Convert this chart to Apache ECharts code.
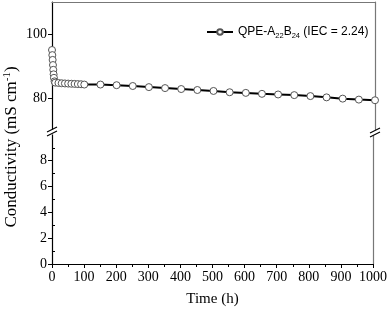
<!DOCTYPE html>
<html><head><meta charset="utf-8">
<script src="https://cdn.jsdelivr.net/npm/echarts@6/dist/echarts.min.js"></script>
<style>html,body{margin:0;padding:0;background:#fff}#c{width:390px;height:313px}</style>
</head><body><div id="c"></div>
<script>
const timeH = [0,1,2,3,4,5,6,8,10,20,30,40,50,60,70,80,90,100,150,200,250,300,350,400,450,500,550,600,650,700,750,800,850,900,950,1000];
const conductivity = [95.0,93.4,91.9,90.3,88.8,87.4,86.3,85.2,84.8,84.7,84.6,84.55,84.5,84.45,84.4,84.35,84.3,84.2,84.2,84.0,83.75,83.4,83.1,82.8,82.5,82.2,81.8,81.6,81.3,81.1,80.9,80.6,80.2,79.8,79.5,79.3];
const xTicks = [0,100,200,300,400,500,600,700,800,900,1000];
const upperYTicks = [80,100];
const lowerYTicks = [0,2,4,6,8];
const lowerYMinorTicks = [1,3,5,7,9];
const seriesName = 'QPE-A22B24 (IEC = 2.24)';

const serif = 'Liberation Serif';
const chart = echarts.init(document.getElementById('c'), null, {renderer:'canvas'});
const data = timeH.map((t,i)=>[t, conductivity[i]]);
const blackLine = {show:true, lineStyle:{color:'#000', width:1.2}};
const grayLine = {show:true, lineStyle:{color:'#777', width:1.2}};
const lab = {color:'#000', fontFamily:serif, fontSize:14, margin:5, formatter:(v)=>String(v)};
chart.setOption({
  animation:false,
  backgroundColor:'#fff',
  grid:[
    {left:52, right:15, top:2, height:128},
    {left:52, right:15, top:133, bottom:49},
    {left:52, right:15, top:133, bottom:49}
  ],
  legend:{
    show:true, left:201, top:21, itemWidth:26, itemHeight:7, itemGap:4,
    data:[{name:seriesName}],
    formatter:()=> 'QPE-A{s|22}B{s|24} (IEC = 2.24)',
    textStyle:{fontFamily:'Liberation Sans', fontSize:12, color:'#000',
      rich:{s:{fontSize:7.5, verticalAlign:'bottom', padding:[8,0,0,0], fontFamily:'Liberation Sans'}}}
  },
  xAxis:[
    {gridIndex:0, type:'value', min:0, max:1000, position:'top',
     axisLine:grayLine, axisTick:{show:false}, axisLabel:{show:false}, splitLine:{show:false}},
    {gridIndex:1, type:'value', min:0, max:1000, interval:100, position:'bottom',
     axisLine:blackLine, axisTick:{show:true, inside:false, length:4, lineStyle:{color:'#000'}},
     minorTick:{show:true, splitNumber:2, length:3, lineStyle:{color:'#000'}},
     axisLabel:Object.assign({}, lab, {customValues:xTicks, margin:6}),
     splitLine:{show:false},
     name:'Time (h)', nameLocation:'middle', nameGap:28,
     nameTextStyle:{fontFamily:serif, fontSize:15, color:'#000'}},
    {gridIndex:2, type:'value', min:0, max:1000, show:false}
  ],
  yAxis:[
    {gridIndex:0, type:'value', min:70, max:110, position:'left',
     axisLine:blackLine,
     axisTick:{show:true, length:4, lineStyle:{color:'#000'}, customValues:upperYTicks},
     axisLabel:Object.assign({}, lab, {customValues:upperYTicks}),
     splitLine:{show:false}},
    {gridIndex:1, type:'value', min:0, max:10.15, position:'left',
     axisLine:blackLine,
     axisTick:{show:true, length:4, lineStyle:{color:'#000'}, customValues:lowerYTicks},
     axisLabel:Object.assign({}, lab, {customValues:lowerYTicks}),
     splitLine:{show:false}},
    {gridIndex:0, type:'value', min:70, max:110, position:'right',
     axisLine:grayLine, axisTick:{show:false}, axisLabel:{show:false}, splitLine:{show:false}},
    {gridIndex:1, type:'value', min:0, max:10.15, position:'right',
     axisLine:grayLine, axisTick:{show:false}, axisLabel:{show:false}, splitLine:{show:false}},
    {gridIndex:2, type:'value', min:0, max:10.15, position:'left',
     axisLine:{show:false},
     axisTick:{show:true, inside:true, length:3, lineStyle:{color:'#000'}, customValues:lowerYMinorTicks},
     axisLabel:{show:false}, splitLine:{show:false}}
  ],
  series:[{
    name:seriesName, type:'line', xAxisIndex:0, yAxisIndex:0, data:data,
    clip:false,
    lineStyle:{color:'#000', width:2},
    symbol:'circle', symbolSize:7,
    itemStyle:{color:'#fff', borderColor:'#555', borderWidth:1},
    z:3
  }],
  graphic:[
    {type:'rect', shape:{x:46, y:129.5, width:12, height:5}, style:{fill:'#fff'}, z:100},
    {type:'line', shape:{x1:47, y1:132, x2:57, y2:127}, style:{stroke:'#000', lineWidth:1.2}, z:101},
    {type:'line', shape:{x1:47, y1:136, x2:57, y2:131}, style:{stroke:'#000', lineWidth:1.2}, z:101},
    {type:'rect', shape:{x:369, y:130.5, width:12, height:5}, style:{fill:'#fff'}, z:100},
    {type:'line', shape:{x1:370, y1:133, x2:380, y2:128}, style:{stroke:'#000', lineWidth:1.2}, z:101},
    {type:'line', shape:{x1:370, y1:137, x2:380, y2:132}, style:{stroke:'#000', lineWidth:1.2}, z:101},
    {type:'text', x:12, y:147, rotation:Math.PI/2,
     style:{text:'Conductivity (mS cm{sup|-1})', fill:'#000',
       fontFamily:serif, fontSize:17, align:'center', verticalAlign:'middle',
       rich:{sup:{fontSize:11, fontFamily:serif, verticalAlign:'top', padding:[0,0,9,0]}}}}
  ]
});
</script></body></html>
